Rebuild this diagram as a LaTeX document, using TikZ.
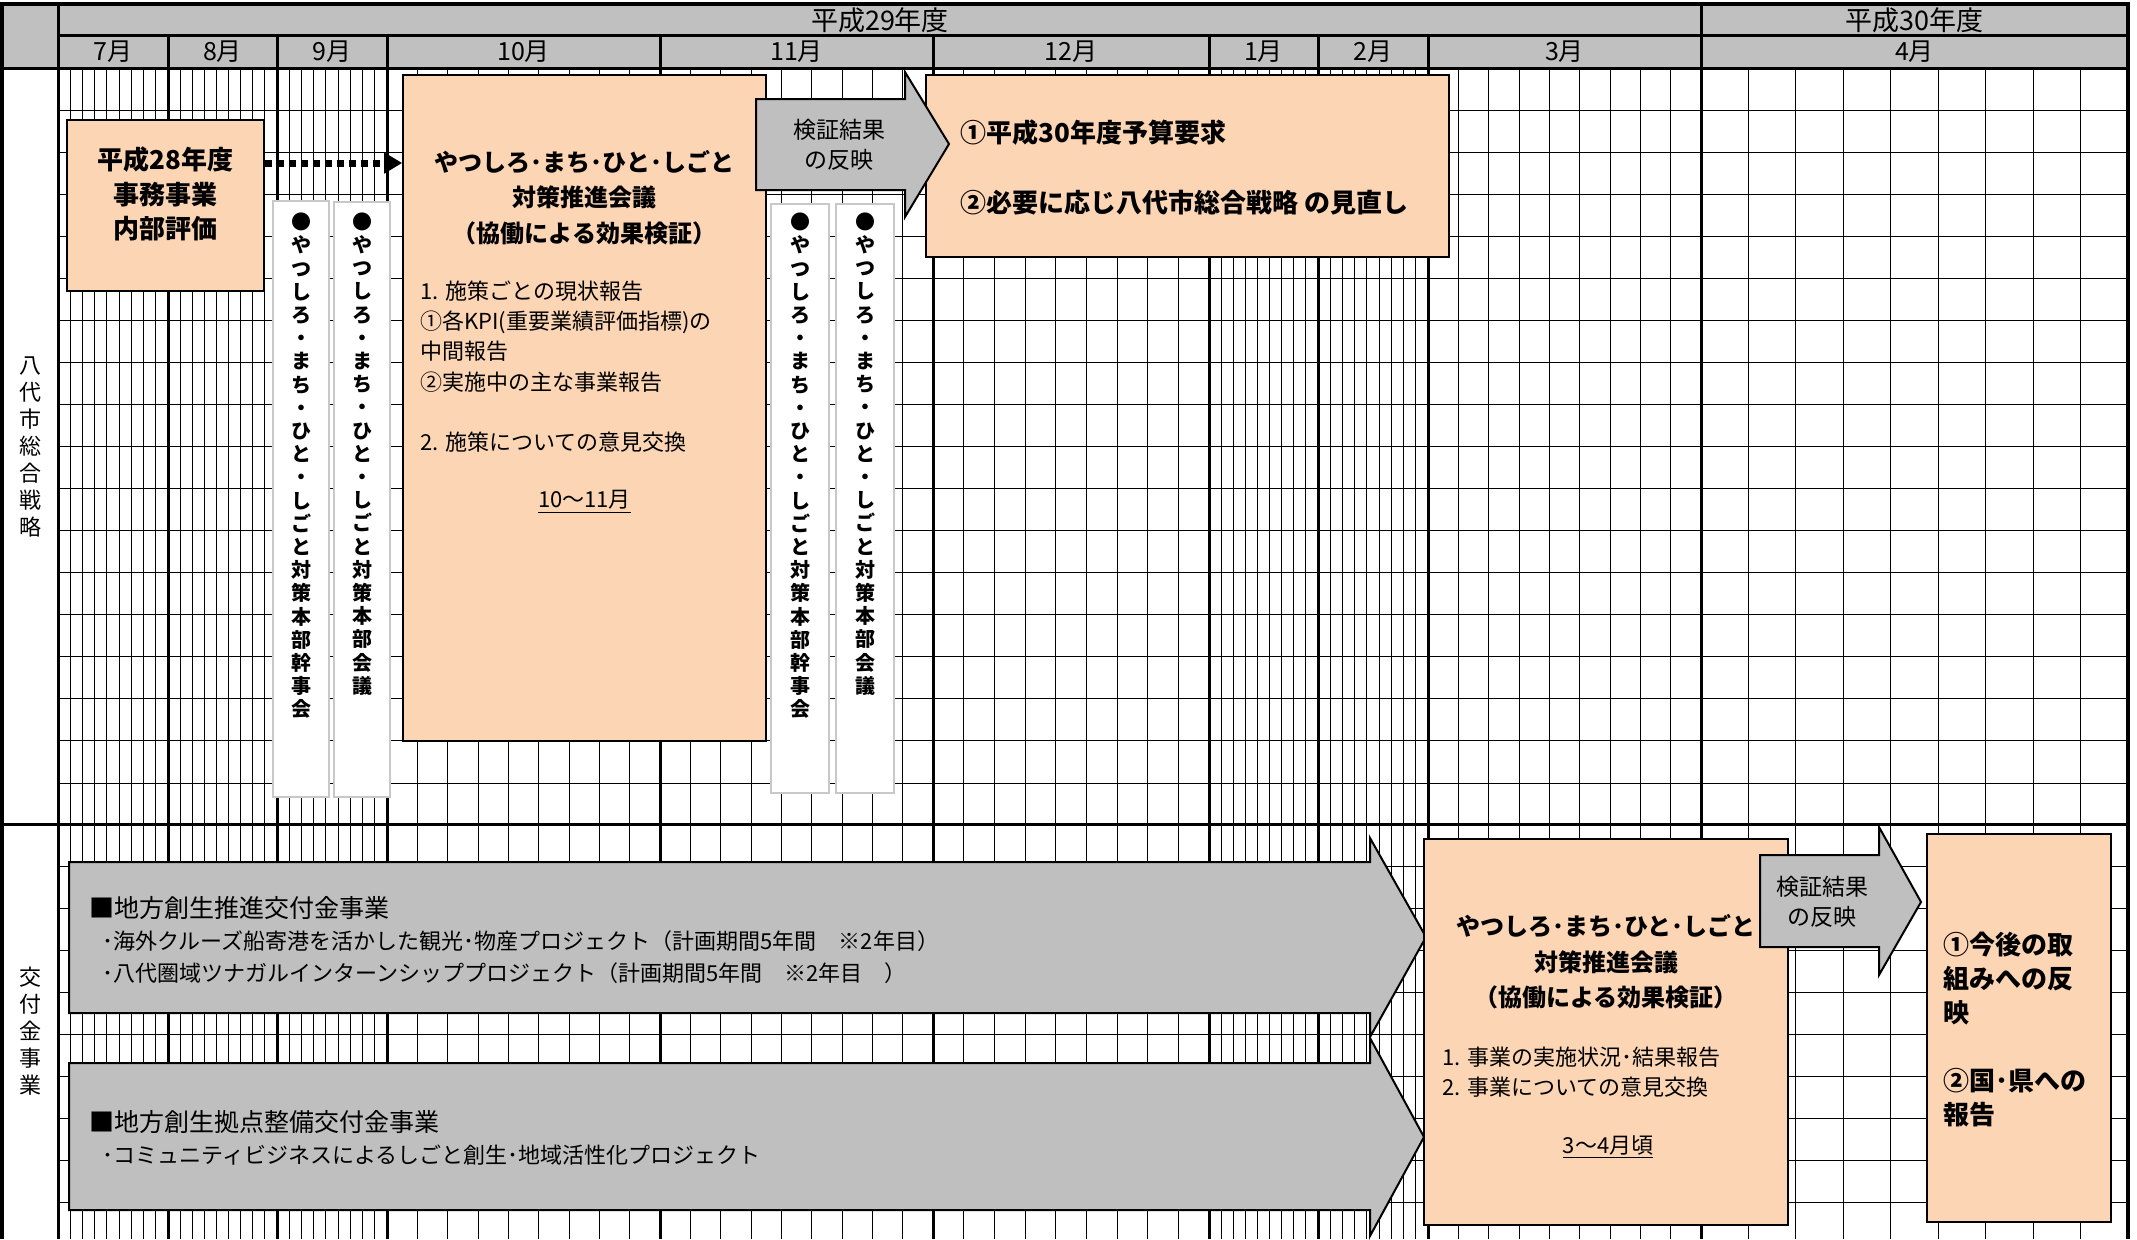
\documentclass[tikz,border=0pt]{standalone}
\usepackage{fontspec}
\setmainfont{Noto Sans CJK JP}
\usetikzlibrary{arrows.meta, fit, positioning}

\definecolor{headgray}{RGB}{192,192,192}
\definecolor{boxpeach}{RGB}{252,213,180}
\definecolor{arrowgray}{RGB}{191,191,191}
\definecolor{tategray}{RGB}{200,200,200}

% one character per line, for the upright columns
\ExplSyntaxOn
\seq_new:N \l_tate_seq
\NewDocumentCommand \tatetext { m }
  {
    \seq_clear:N \l_tate_seq
    \tl_map_inline:nn {#1} { \seq_put_right:Nn \l_tate_seq {##1} }
    \seq_use:Nn \l_tate_seq { \\ }
  }
\ExplSyntaxOff

\tikzset{
    gridline/.style={line width=0.5pt},
    monthline/.style={line width=1.5pt},
    frameline/.style={line width=2pt},
    peachbox/.style={draw=black, line width=0.8pt, fill=boxpeach, inner sep=0pt},
    tatebox/.style={draw=tategray, line width=1pt, fill=white, inner sep=0pt},
    blockarrow/.style={draw=black, line width=1pt, fill=arrowgray},
    dotarrow/.style={line width=3.5pt, dash pattern=on 3.5pt off 2.5pt, -{Triangle[length=9pt,width=10pt]}},
    yeartext/.style={inner sep=0pt, font=\fontsize{13.5pt}{15pt}\selectfont},
    headtext/.style={inner sep=0pt, font=\fontsize{12.5pt}{14pt}\selectfont},
    sidelabel/.style={inner sep=0pt, align=center, font=\fontsize{11pt}{13.5pt}\selectfont},
    tatestyle/.style={inner sep=0pt, align=center, font=\bfseries\fontsize{10pt}{11.6pt}\selectfont},
    titletext/.style={inner sep=0pt, align=center, font=\bfseries\fontsize{12pt}{17.75pt}\selectfont},
    bodytext/.style={inner sep=0pt, align=left, font=\fontsize{11pt}{15.1pt}\selectfont},
    bigbold/.style={inner sep=0pt, align=left, font=\bfseries\fontsize{13pt}{17pt}\selectfont},
    arrowtext/.style={inner sep=0pt, align=center, font=\fontsize{11.5pt}{15pt}\selectfont},
    midtext/.style={inner sep=0pt, font=\fontsize{12.5pt}{15pt}\selectfont},
    subtext/.style={inner sep=0pt, font=\fontsize{11pt}{14pt}\selectfont}
}

\begin{document}
\begin{tikzpicture}[x=0.5pt, y=-0.5pt]
    \useasboundingbox (0,0) rectangle (2137,1239);

    % header and grid
    \fill[headgray] (2,4) rectangle (2128,68);
    \foreach \xa/\xb in {58/168,168/277,277/387,387/660,660/933,933/1209,1209/1318,1318/1428,1428/1701,1701/2128}
        \foreach \k in {1,...,8}
            \draw[gridline] ({\xa+\k*(\xb-\xa)/9},68) -- ({\xa+\k*(\xb-\xa)/9},1239);
    \foreach \k in {1,...,17}
        \draw[gridline] (58,{68+\k*42.06}) -- (2128,{68+\k*42.06});
    \foreach \k in {1,...,9}
        \draw[gridline] (58,{824+\k*42.06}) -- (2128,{824+\k*42.06});
    \foreach \xm in {168,277,387,660,933,1209,1318,1428}
        \draw[monthline] (\xm,35) -- (\xm,1239);
    \draw[monthline] (1701,4) -- (1701,1239);
    \draw[monthline] (58,35) -- (2128,35);
    \draw[monthline] (2,68) -- (2128,68);
    \draw[monthline] (2,824) -- (2128,824);
    \draw[monthline] (58,4) -- (58,1239);
    \draw[frameline] (2,1239) -- (2,4) -- (2128,4) -- (2128,1239);

    \node[yeartext] (y29) at (880,20) {平成29年度};
    \node[yeartext] (y30) at (1914,20) {平成30年度};
    \foreach \xa/\xb/\m in {58/168/7,168/277/8,277/387/9,387/660/10,660/933/11,933/1209/12,1209/1318/1,1318/1428/2,1428/1701/3,1701/2128/4}
        \node[headtext] (m\m) at ({(\xa+\xb)/2},52) {\m 月};

    \node[sidelabel] (senryaku) at (30,447) {\tatetext{八代市総合戦略}};
    \node[sidelabel] (kofukin) at (30,1031) {\tatetext{交付金事業}};

    % upper part
    \node[peachbox, fit={(67,120) (264,291)}, align=center, font=\bfseries\fontsize{13pt}{17.25pt}\selectfont] (naibu) {平成28年度\\事務事業\\内部評価};
    \node[peachbox, fit={(403,75) (766,741)}] (kaigi) {};
    \node[peachbox, fit={(926,75) (1449,257)}] (yosan) {};

    \coordinate (dotrow) at (0,163);
    \draw[dotarrow] (naibu.east |- dotrow) -- (kaigi.west |- dotrow);

    \node[tatebox, fit={(273,201) (329,797)}] (kanjikai1) {};
    \node[tatebox, fit={(334,202) (390,797)}] (honbu1) {};
    \node[tatebox, fit={(771,204) (829,793)}] (kanjikai2) {};
    \node[tatebox, fit={(836,204) (894,793)}] (honbu2) {};
    \node[tatestyle] (kanjikai1text) at (301,466) {\tatetext{●やつしろ・まち・ひと・しごと対策本部幹事会}};
    \node[tatestyle] (honbu1text) at (362,454) {\tatetext{●やつしろ・まち・ひと・しごと対策本部会議}};
    \node[tatestyle] (kanjikai2text) at (800,466) {\tatetext{●やつしろ・まち・ひと・しごと対策本部幹事会}};
    \node[tatestyle] (honbu2text) at (865,454) {\tatetext{●やつしろ・まち・ひと・しごと対策本部会議}};

    \node[titletext] (kaigititle) at (584.5,197.5) {やつしろ･まち･ひと･しごと\\対策推進会議\\（協働による効果検証）};
    \node[bodytext, anchor=west] (kaigibody) at (420,366.5) {1. 施策ごとの現状報告\\①各KPI(重要業績評価指標)の\\中間報告\\②実施中の主な事業報告\\[15pt]2. 施策についての意見交換};
    \node[bodytext] (kaigiterm) at (584.5,502) {\underline{10〜11月}};

    \draw[blockarrow] (756,99) -- (905,99) -- (905,72) -- (949,144) -- (905,217) -- (905,190) -- (756,190) -- cycle;
    \node[arrowtext] (hanei1) at (839,145) {検証結果\\の反映};

    \node[bigbold, anchor=west] (yosan1) at (960,133) {①平成30年度予算要求};
    \node[bigbold, anchor=west] (yosan2) at (960,203) {②必要に応じ八代市総合戦略 の見直し};

    % lower part
    \draw[blockarrow] (69,862) -- (1370,862) -- (1370,838) -- (1426,937) -- (1370,1037) -- (1370,1013) -- (69,1013) -- cycle;
    \draw[blockarrow] (69,1063) -- (1370,1063) -- (1370,1038) -- (1424,1137) -- (1370,1236) -- (1370,1210) -- (69,1210) -- cycle;
    \node[midtext, anchor=west] (suishin) at (89,908) {■地方創生推進交付金事業};
    \node[subtext, anchor=west] (cruise) at (102,941) {･海外クルーズ船寄港を活かした観光･物産プロジェクト（計画期間5年間　※2年目）};
    \node[subtext, anchor=west] (intern) at (102,973) {･八代圏域ツナガルインターンシッププロジェクト（計画期間5年間　※2年目　）};
    \node[midtext, anchor=west] (kyoten) at (89,1122) {■地方創生拠点整備交付金事業};
    \node[subtext, anchor=west] (community) at (102,1155) {･コミュニティビジネスによるしごと創生･地域活性化プロジェクト};

    \node[peachbox, fit={(1424,839) (1788,1225)}] (kaigi2) {};
    \node[titletext] (kaigi2title) at (1606,962) {やつしろ･まち･ひと･しごと\\対策推進会議\\（協働による効果検証）};
    \node[bodytext, anchor=west] (kaigi2body) at (1442,1072) {1. 事業の実施状況･結果報告\\2. 事業についての意見交換};
    \node[bodytext] (kaigi2term) at (1608,1147) {\underline{3〜4月頃}};

    \draw[blockarrow] (1760,855) -- (1879,855) -- (1879,827) -- (1921,902) -- (1879,975) -- (1879,947) -- (1760,947) -- cycle;
    \node[arrowtext] (hanei2) at (1822,902) {検証結果\\の反映};

    \node[peachbox, fit={(1927,834) (2111,1222)}] (kekka) {};
    \node[bigbold, anchor=west] (kekkatext) at (1943,1029.5) {①今後の取\\組みへの反\\映\\[17pt]②国･県への\\報告};
\end{tikzpicture}
\end{document}
